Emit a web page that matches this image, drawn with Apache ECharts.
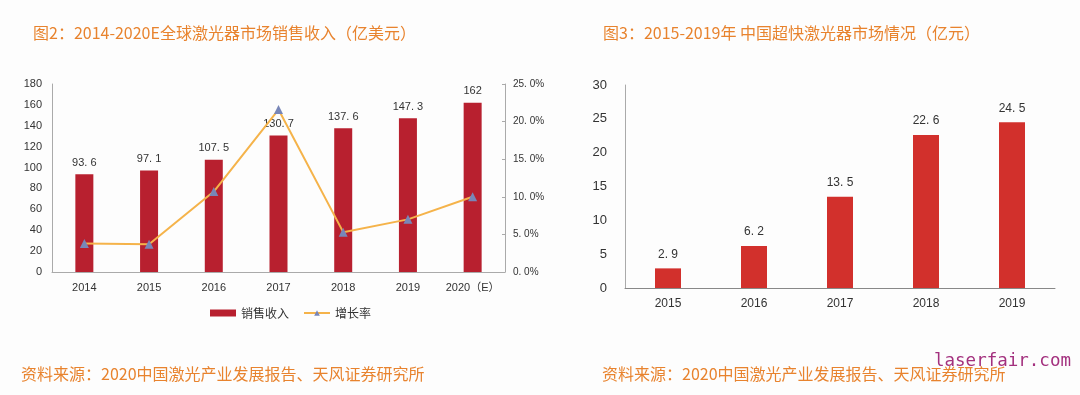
<!DOCTYPE html>
<html><head><meta charset="utf-8">
<script src="https://cdn.jsdelivr.net/npm/echarts@6/dist/echarts.min.js"></script>
<style>html,body{margin:0;padding:0;background:#fff}#c{width:1080px;height:395px}</style>
</head><body><div id="c"></div>
<script>
const leftCategories = ['2014','2015','2016','2017','2018','2019','2020（E）'];
const leftRevenue = [93.6, 97.1, 107.5, 130.7, 137.6, 147.3, 162];
const leftGrowth = [0.038, 0.037, 0.107, 0.216, 0.053, 0.070, 0.100];
const rightCategories = ['2015','2016','2017','2018','2019'];
const rightMarket = [2.9, 6.2, 13.5, 22.6, 24.5];
const leftTitle = '图2：2014-2020E全球激光器市场销售收入（亿美元）';
const rightTitle = '图3：2015-2019年 中国超快激光器市场情况（亿元）';
const sourceText = '资料来源：2020中国激光产业发展报告、天风证券研究所';

const FONT = '"Liberation Sans","Noto Sans CJK SC",sans-serif';
const CJK = '"Noto Sans CJK SC",sans-serif';
const fmtNum = v => String(v).replace('.', '. ');
const axisLab = {color:'#333', fontSize:11, fontFamily:FONT};
const axisLine = {show:true, lineStyle:{color:'#aaa', width:1}};

const chart = echarts.init(document.getElementById('c'));
chart.setOption({
  backgroundColor:'#fdfdfd',
  animation:false,
  title:[
    {text:leftTitle, left:28, top:20, textStyle:{color:'#e8832e', fontSize:16, fontWeight:'normal', fontFamily:CJK}},
    {text:rightTitle, left:598, top:20, textStyle:{color:'#e8832e', fontSize:16, fontWeight:'normal', fontFamily:CJK}}
  ],
  legend:{
    data:[{name:'销售收入', icon:'rect'}, {name:'增长率'}],
    left:205, top:302, itemWidth:26, itemHeight:7, itemGap:14,
    textStyle:{color:'#333', fontSize:12, fontFamily:CJK}
  },
  grid:[
    {left:52, right:575, top:84, bottom:123},
    {left:625, right:25, top:85, bottom:107}
  ],
  xAxis:[
    {type:'category', gridIndex:0, data:leftCategories, axisLine:axisLine, axisTick:{show:false},
     axisLabel:Object.assign({margin:10, interval:0}, axisLab)},
    {type:'category', gridIndex:1, data:rightCategories, axisLine:{show:true, lineStyle:{color:'#888'}}, axisTick:{show:false},
     axisLabel:Object.assign({margin:10, interval:0}, axisLab, {fontSize:12})}
  ],
  yAxis:[
    {type:'value', gridIndex:0, min:0, max:180, interval:20, axisLine:axisLine, axisTick:{show:false},
     splitLine:{show:false}, axisLabel:Object.assign({margin:10}, axisLab)},
    {type:'value', gridIndex:0, min:0, max:0.25, interval:0.05, position:'right', axisLine:axisLine,
     axisTick:{show:true, inside:true, length:3, lineStyle:{color:'#aaa'}}, splitLine:{show:false},
     axisLabel:Object.assign({margin:8, formatter:v => (v*100).toFixed(1).replace('.', '. ') + '%'}, axisLab, {fontSize:10})},
    {type:'value', gridIndex:1, min:0, max:30, interval:5, axisLine:{show:true, lineStyle:{color:'#aaa'}}, axisTick:{show:false},
     splitLine:{show:false}, axisLabel:Object.assign({margin:18}, axisLab, {fontSize:13})}
  ],
  series:[
    {name:'销售收入', type:'bar', xAxisIndex:0, yAxisIndex:0, data:leftRevenue, barWidth:18,
     itemStyle:{color:'#b8202f'},
     label:{show:true, position:'top', distance:6, color:'#333', fontSize:11, fontFamily:FONT, formatter:p => fmtNum(p.value)}},
    {name:'增长率', type:'line', xAxisIndex:0, yAxisIndex:1, data:leftGrowth, symbol:'triangle', symbolSize:9,
     lineStyle:{color:'#f5b34a', width:2}, itemStyle:{color:'#7886b8'}, z:5},
    {name:'中国超快', type:'bar', xAxisIndex:1, yAxisIndex:2, data:rightMarket, barWidth:26,
     itemStyle:{color:'#d2302c'},
     label:{show:true, position:'top', distance:8, color:'#333', fontSize:12, fontFamily:FONT, formatter:p => fmtNum(p.value)}}
  ],
  graphic:[
    {type:'text', left:21, top:366, style:{text:sourceText, fill:'#e8832e', fontSize:16, fontFamily:CJK}},
    {type:'text', left:602, top:366, style:{text:sourceText, fill:'#e8832e', fontSize:16, fontFamily:CJK}},
    {type:'text', left:934, top:352, style:{text:'laserfair.com', fill:'#a3307e', fontSize:17.5, fontFamily:'"DejaVu Sans Mono",monospace'}}
  ]
});
</script></body></html>
